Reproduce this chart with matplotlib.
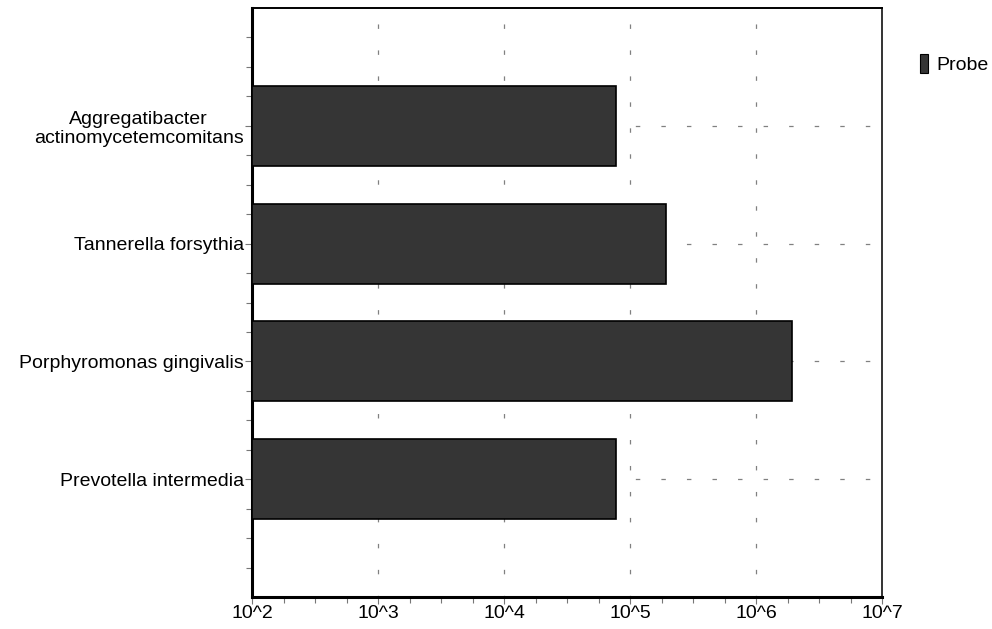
import matplotlib
matplotlib.use("Agg")
import matplotlib.pyplot as plt
from matplotlib.patches import Patch
from matplotlib.ticker import FixedLocator, FuncFormatter
import numpy as np

plt.rcParams['font.family'] = ['Liberation Sans', 'DejaVu Sans']
plt.rcParams['lines.scale_dashes'] = False

# data (top to bottom as shown)
species = ["Aggregatibacter\nactinomycetemcomitans", "Tannerella forsythia",
           "Porphyromonas gingivalis", "Prevotella intermedia"]
counts = [7.7e4, 1.93e5, 1.93e6, 7.7e4]
series_name = "Probe"
decades = [2, 3, 4, 5, 6, 7]

bar_color = "#353535"
grid_color = "#808080"

fig = plt.figure(figsize=(9.92, 6.29), dpi=100)
ax = fig.add_axes([252/992, 1 - 597/629, 630/992, 589/629])

ypos = np.arange(len(species), 0, -1)  # 4,3,2,1
ax.barh(ypos, counts, height=0.68, left=1e2, color=bar_color,
        edgecolor="black", linewidth=1.2, zorder=3)

ax.set_xscale("log")
ax.set_xlim(10.0**decades[0], 10.0**decades[-1])
ax.set_ylim(0, 5)

# x ticks
ax.xaxis.set_major_locator(FixedLocator([10.0**d for d in decades]))
ax.xaxis.set_major_formatter(FuncFormatter(lambda v, p: "10^%d" % round(np.log10(v))))
minor_x = [10.0**(d + f) for d in decades[:-1] for f in (0.25, 0.5, 0.75)]
ax.xaxis.set_minor_locator(FixedLocator(minor_x))
ax.xaxis.set_minor_formatter(FuncFormatter(lambda v, p: ""))

# y ticks
ax.set_yticks(ypos)
ax.set_yticklabels(species, ha="right", multialignment="center")
ax.yaxis.set_minor_locator(FixedLocator([i * 0.25 for i in range(1, 20) if i % 4 != 0]))

ax.tick_params(axis="both", which="major", length=5, width=0.8, color="#777777",
               labelsize=14, pad=1, labelcolor="black")
ax.tick_params(axis="both", which="minor", length=4, width=0.8, color="#777777")

# dashed grid behind bars
for d in decades[1:-1]:
    ax.axvline(10.0**d, color=grid_color, linewidth=0.9,
               linestyle=(2, (3.2, 15.5)), zorder=1)
for y in ypos:
    ax.axhline(y, color=grid_color, linewidth=0.9,
               linestyle=(0, (3.2, 15.2)), zorder=1)

# spines
ax.spines["left"].set_linewidth(2.2)
ax.spines["bottom"].set_linewidth(2.2)
ax.spines["top"].set_linewidth(1.4)
ax.spines["right"].set_linewidth(1.4)
ax.spines["right"].set_color("#333333")

fig.legend(handles=[Patch(facecolor=bar_color, edgecolor="black", linewidth=0.8,
                          label=series_name)],
           loc="center left", bbox_to_anchor=(920/992, 1 - 64/629),
           frameon=False, fontsize=14, handlelength=0.4, handleheight=1.1,
           handletextpad=0.45, borderaxespad=0, borderpad=0)

fig.savefig("out.png", dpi=100)
